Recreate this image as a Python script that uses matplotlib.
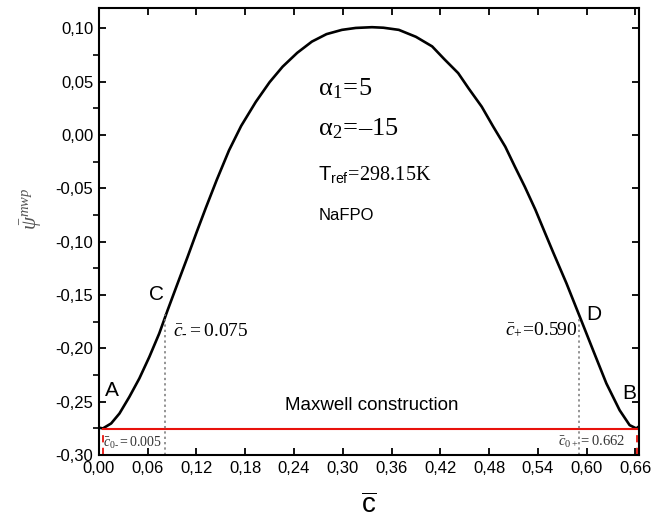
import matplotlib
matplotlib.use("Agg")
import matplotlib.pyplot as plt
from matplotlib.ticker import FixedLocator, FuncFormatter

plt.rcParams['font.family'] = ['Liberation Sans', 'DejaVu Sans']
plt.rcParams['axes.unicode_minus'] = False
plt.rcParams['mathtext.fontset'] = 'custom'
plt.rcParams['mathtext.rm'] = 'Liberation Serif'
plt.rcParams['mathtext.it'] = 'Liberation Serif:italic'
plt.rcParams['mathtext.sf'] = 'Liberation Sans'

# ---- data ----
c_vals = [0.001, 0.0048, 0.0150, 0.0252, 0.0374, 0.0497, 0.0620, 0.0742, 0.0845, 0.0968,
          0.1091, 0.120, 0.1315, 0.145, 0.160, 0.175, 0.193, 0.210, 0.226, 0.244,
          0.262, 0.280, 0.299, 0.316, 0.336, 0.350, 0.369, 0.390, 0.410, 0.425,
          0.442, 0.455, 0.471, 0.485, 0.500, 0.512, 0.524, 0.537, 0.549, 0.5589,
          0.5753, 0.5917, 0.6080, 0.6244, 0.6407, 0.6530, 0.6612, 0.6640]
psi_vals = [-0.2745, -0.2751, -0.2704, -0.2611, -0.2455, -0.2282, -0.2080, -0.1860, -0.1642, -0.1391,
            -0.1142, -0.0915, -0.0683, -0.0420, -0.0145, 0.0085, 0.0310, 0.0495, 0.0640, 0.0770,
            0.0875, 0.0945, 0.0985, 0.1003, 0.101, 0.1005, 0.0985, 0.092, 0.083, 0.071,
            0.058, 0.0435, 0.0265, 0.008, -0.011, -0.030, -0.0485, -0.070, -0.092, -0.1100,
            -0.1391, -0.1704, -0.2017, -0.2329, -0.2580, -0.2720, -0.2751, -0.2735]

maxwell_level = -0.2755
binodal_c = [0.005, 0.662]
spinodal_c = [0.081, 0.591]
spinodal_psi = [-0.168, -0.172]

x_ticks = [0.00, 0.06, 0.12, 0.18, 0.24, 0.30, 0.36, 0.42, 0.48, 0.54, 0.60, 0.66]
y_ticks = [-0.30, -0.25, -0.20, -0.15, -0.10, -0.05, 0.00, 0.05, 0.10]
y_minor = [-0.275, -0.225, -0.175, -0.125, -0.075, -0.025, 0.025, 0.075]

fig = plt.figure(figsize=(6.52, 5.19), dpi=100)
ax = fig.add_axes([0.1518, 0.1233, 0.8282, 0.8613])

ax.plot(c_vals, psi_vals, color='black', lw=1.9, solid_capstyle='round',
        solid_joinstyle='round')

# Maxwell construction
ax.plot(binodal_c, [maxwell_level, maxwell_level], color='#e8120c', lw=1.5)
for cb in binodal_c:
    ax.plot([cb, cb], [-0.30, maxwell_level], color='#e8120c', lw=1.3, ls=(0, (4, 3)))

# spinodal dotted lines
for cs, ps in zip(spinodal_c, spinodal_psi):
    ax.plot([cs, cs], [-0.30, ps], color='#777777', lw=1.1, ls=(0, (1.5, 2)))

ax.set_xlim(0.0, 0.6645)
ax.set_ylim(-0.30, 0.119)

ax.xaxis.set_major_locator(FixedLocator(x_ticks))
ax.yaxis.set_major_locator(FixedLocator(y_ticks))
ax.yaxis.set_minor_locator(FixedLocator(y_minor))
fmt = FuncFormatter(lambda v, p: f"{v:.2f}".replace('.', ','))
ax.xaxis.set_major_formatter(fmt)
ax.yaxis.set_major_formatter(fmt)

ax.tick_params(axis='x', which='major', direction='in', length=5, width=1.3,
               labelsize=12, top=True, pad=4)
ax.tick_params(axis='y', which='major', direction='in', length=5, width=1.3,
               labelsize=12, right=True, pad=4)
ax.tick_params(axis='y', which='minor', direction='out', length=4, width=1.2,
               left=True, right=False)
for s in ax.spines.values():
    s.set_linewidth(1.5)

# labels
ax.set_xlabel(r'$\overline{\mathsf{c}}$', fontsize=20, labelpad=13)
ax.set_ylabel(r'$\bar{\psi}^{mwp}$', fontsize=15, color='#555555')
ax.yaxis.set_label_coords(-0.102, 0.55)

# point letters
ax.text(0.0165, -0.2486, 'A', fontsize=15, ha='center', va='bottom')
ax.text(0.071, -0.1588, 'C', fontsize=15, ha='center', va='bottom')
ax.text(0.609, -0.1769, 'D', fontsize=15, ha='center', va='bottom')
ax.text(0.652, -0.2514, 'B', fontsize=15, ha='center', va='bottom')

ax.text(0.091, -0.1825, r'$\bar{c}_{\text{-}}=0.075$', fontsize=14, ha='left', va='center')
ax.text(0.589, -0.1825, r'$\bar{c}_{+}\!=\!0.590$', fontsize=14, ha='right', va='center')
ax.text(0.0055, -0.2885, r'$\bar{c}_{0\text{-}}=0.005$', fontsize=10, ha='left', va='center',
        color='#333333')
ax.text(0.648, -0.2875, r'$\bar{c}_{0+}=0.662$', fontsize=10.5, ha='right', va='center',
        color='#333333')

ax.text(0.3355, -0.262, 'Maxwell construction', fontsize=13.5, ha='center', va='bottom')

ax.text(0.270, 0.0375, r'$\mathrm{\alpha}_{1}\!=\!5$', fontsize=19, ha='left', va='baseline')
ax.text(0.270, 0.0, '$\\mathrm{\\alpha}_{2}\\!=\\!\u201315$', fontsize=19, ha='left',
        va='baseline')
ax.text(0.270, -0.0422, r'$\mathsf{T}_{\mathsf{ref}}\!=\!298.15\mathrm{K}$', fontsize=14.5,
        ha='left', va='baseline')
ax.text(0.270, -0.0797, 'NaFPO', fontsize=12, ha='left', va='baseline')

fig.savefig('out.png', dpi=100)
